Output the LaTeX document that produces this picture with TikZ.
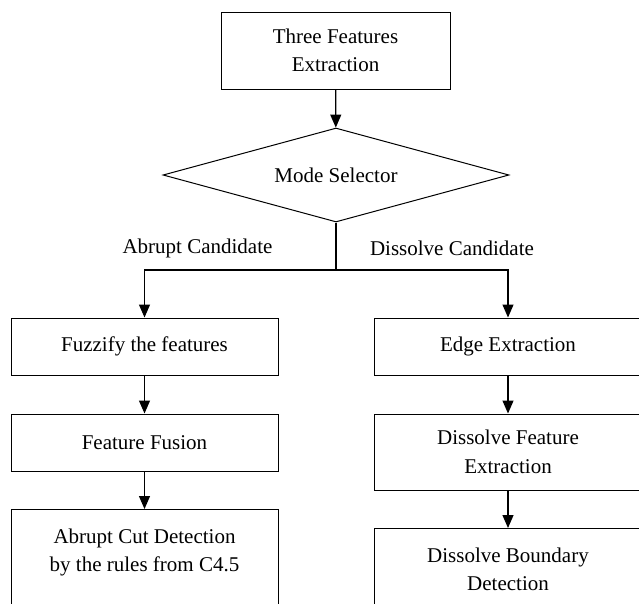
\documentclass[tikz,border=0pt]{standalone}
\usepackage{fontspec}
\setmainfont{Liberation Serif}
\usepackage{tikz}
\usetikzlibrary{shapes.geometric,arrows.meta}

\tikzset{
    box/.style={draw, line width=1pt, minimum width=267pt, minimum height=57pt, inner sep=0pt, align=center},
    decision/.style={draw, diamond, aspect=3.68, line width=1pt, minimum width=346pt, minimum height=94pt, inner sep=0pt},
    flowarrow/.style={line width=1.2pt, -{Triangle[width=11pt,length=13pt]}},
    flowline/.style={line width=1.2pt},
    branchtext/.style={inner sep=0pt}
}

\begin{document}
\begin{tikzpicture}[x=1pt, y=-1pt, font=\fontsize{21}{28.5}\selectfont]
        \useasboundingbox (0,0) rectangle (639,603);
        \clip (0,0) rectangle (639,603);

        \node[box, minimum width=229pt, minimum height=77pt] (three) at (335.5,50.5) {Three Features\\Extraction};
        \node[decision] (mode) at (336,175) {Mode Selector};

        \coordinate (split) at (336,270);
        \coordinate (abruptturn) at (144.5,270);
        \coordinate (dissolveturn) at (508,270);

        \node[branchtext] at (197.5,248) {Abrupt Candidate};
        \node[branchtext] at (452,248) {Dissolve Candidate};

        \node[box] (fuzzify) at (144.5,346.5) {Fuzzify the features};
        \node[box] (fusion) at (144.5,442.5) {Feature Fusion};
        \node[box, anchor=north] (cut) at (144.5,509)
            {\parbox[c][120pt][t]{267pt}{\centering\vspace*{19pt}Abrupt Cut Detection\\by the rules from C4.5}};

        \node[box, minimum width=268pt] (edge) at (508,346.5) {Edge Extraction};
        \node[box, minimum width=268pt, minimum height=76pt] (dfeature) at (508,452) {Dissolve Feature\\Extraction};
        \node[box, anchor=north] (boundary) at (508,528)
            {\parbox[c][120pt][t]{268pt}{\centering\vspace*{19pt}Dissolve Boundary\\Detection}};

        \draw[flowarrow] (three) -- (mode);
        \draw[flowline] (mode.south) -- (split);
        \draw[flowarrow] (split) -- (abruptturn) -- (fuzzify.north);
        \draw[flowarrow] (split) -- (dissolveturn) -- (edge.north);
        \draw[flowarrow] (fuzzify) -- (fusion);
        \draw[flowarrow] (fusion) -- (cut);
        \draw[flowarrow] (edge) -- (dfeature);
        \draw[flowarrow] (dfeature) -- (boundary);
    \end{tikzpicture}
\end{document}
